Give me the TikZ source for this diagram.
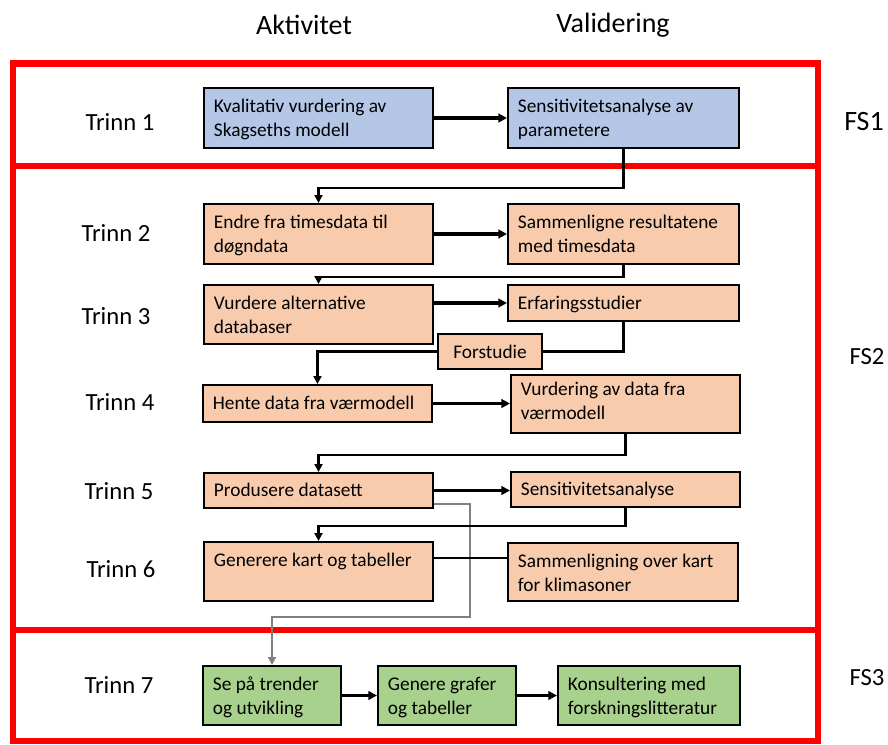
\documentclass[tikz,border=0pt]{standalone}
\usepackage{fontspec}
\setmainfont{Carlito}
\usetikzlibrary{arrows.meta,fit,positioning}
\definecolor{fsred}{RGB}{255,0,0}
\definecolor{fsblue}{RGB}{180,199,231}
\definecolor{fsorange}{RGB}{248,203,173}
\definecolor{fsgreen}{RGB}{169,209,142}
\tikzset{
    stepbox/.style={
           rectangle,
           draw=black, line width=1.5pt,
           inner sep=0pt,
           },
}
\tikzset{
    boxtext/.style={
           anchor=north west,
           align=left,
           inner sep=0pt,
           font=\fontsize{14.5}{18}\selectfont,
           },
}
\tikzset{
    frame/.style={
           rectangle,
           draw=fsred, line width=4.8pt,
           inner sep=0pt,
           },
}
\tikzset{
    trinn/.style={font=\fontsize{18.5}{20}\selectfont},
    head/.style={font=\fontsize{21}{24}\selectfont},
    arr/.style={line width=2.3pt,-{Triangle[length=6.5pt,width=6.5pt]}},
    conn/.style={line width=1.6pt},
    connarr/.style={line width=1.6pt,-{Triangle[length=6pt,width=6pt]}},
    grayarr/.style={line width=1.4pt,draw=gray,-{Triangle[length=6pt,width=6pt]}},
}

\begin{document}
\begin{tikzpicture}[x=0.75pt,y=-0.75pt]
\useasboundingbox (0,0) rectangle (888,744);
% frames
\node[frame,fit={(13,63.5)(818,166)}](fs1){};
\node[frame,fit={(13,166)(818,630)}](fs2){};
\node[frame,fit={(13,630)(818,741)}](fs3){};
\node[head](akt) at (304,25){Aktivitet};
\node[head](val) at (613,25){Validering};
\node[head](fsa) at (864,122){FS1};
\node[trinn](fsb) at (867,357){FS2};
\node[trinn](fsc) at (867,678){FS3};
% trinn labels
\node[trinn](t1) at (120,122){Trinn 1};
\node[trinn](t2) at (116,233){Trinn 2};
\node[trinn](t3) at (116,316){Trinn 3};
\node[trinn](t4) at (120,402){Trinn 4};
\node[trinn](t5) at (119,491){Trinn 5};
\node[trinn](t6) at (121,569){Trinn 6};
\node[trinn](t7) at (119,685){Trinn 7};
% boxes
\node[stepbox,fill=fsblue,fit={(204,88)(433,148)}](b1){};
\node[stepbox,fill=fsblue,fit={(508,88)(739,148)}](b2){};
\node[stepbox,fill=fsorange,fit={(204,204)(433,264)}](c1){};
\node[stepbox,fill=fsorange,fit={(508,204)(739,264)}](c2){};
\node[stepbox,fill=fsorange,fit={(204,285)(433,344)}](d1){};
\node[stepbox,fill=fsorange,fit={(508,285)(739,321)}](d2){};
\node[stepbox,fill=fsorange,fit={(438,334)(542,369)}](fs){};
\node[stepbox,fill=fsorange,fit={(203,385)(432,422)}](e1){};
\node[stepbox,fill=fsorange,fit={(511,375)(740,433)}](e2){};
\node[stepbox,fill=fsorange,fit={(204,473)(433,508)}](f1){};
\node[stepbox,fill=fsorange,fit={(511,472)(740,507)}](f2){};
\node[stepbox,fill=fsorange,fit={(204,542)(433,601)}](g1){};
\node[stepbox,fill=fsorange,fit={(508,543)(738,601)}](g2){};
\node[stepbox,fill=fsgreen,fit={(203,666)(341,725)}](h1){};
\node[stepbox,fill=fsgreen,fit={(378,666)(516,725)}](h2){};
\node[stepbox,fill=fsgreen,fit={(558,666)(740,725)}](h3){};
% box texts
\node[boxtext](b1t) at ([xshift=8pt,yshift=-9pt]b1.north west){Kvalitativ vurdering av\\Skagseths modell};
\node[boxtext](b2t) at ([xshift=8pt,yshift=-9pt]b2.north west){Sensitivitetsanalyse av\\parametere};
\node[boxtext](c1t) at ([xshift=8pt,yshift=-9pt]c1.north west){Endre fra timesdata til\\døgndata};
\node[boxtext](c2t) at ([xshift=8pt,yshift=-9pt]c2.north west){Sammenligne resultatene\\med timesdata};
\node[boxtext](d1t) at ([xshift=8pt,yshift=-9pt]d1.north west){Vurdere alternative\\databaser};
\node[boxtext](d2t) at ([xshift=8pt,yshift=-9pt]d2.north west){Erfaringsstudier};
\node[boxtext,anchor=center](fst) at (fs.center){Forstudie};
\node[boxtext](e1t) at ([xshift=8pt,yshift=-9pt]e1.north west){Hente data fra værmodell};
\node[boxtext](e2t) at ([xshift=8pt,yshift=-6pt]e2.north west){Vurdering av data fra\\værmodell};
\node[boxtext](f1t) at ([xshift=8pt,yshift=-8pt]f1.north west){Produsere datasett};
\node[boxtext](f2t) at ([xshift=8pt,yshift=-8pt]f2.north west){Sensitivitetsanalyse};
\node[boxtext](g1t) at ([xshift=8pt,yshift=-9pt]g1.north west){Generere kart og tabeller};
\node[boxtext](g2t) at ([xshift=8pt,yshift=-9pt]g2.north west){Sammenligning over kart\\for klimasoner};
\node[boxtext](h1t) at ([xshift=8pt,yshift=-9pt]h1.north west){Se på trender\\og utvikling};
\node[boxtext](h2t) at ([xshift=8pt,yshift=-9pt]h2.north west){Genere grafer\\og tabeller};
\node[boxtext](h3t) at ([xshift=8pt,yshift=-9pt]h3.north west){Konsultering med\\forskningslitteratur};
% connectors
\draw[arr] (b1.east) -- (b2.west);
\draw[connarr] (b2.south) -- ++(0,39) -| (c1.north);
\draw[arr] (c1.east) -- (c2.west);
\draw[connarr] (c2.south) -- ++(0,12) -| (d1.north);
\draw[arr] (d1.east |- d2.west) -- (d2.west);
\draw[conn] (d2.south) |- (fs.east);
\draw[connarr] (fs.west) -| (e1.north);
\draw[arr] (e1.east) -- (e1.east -| e2.west);
\draw[connarr] (e2.south) -- ++(0,21) -| (f1.north);
\draw[arr] (f1.east) -- (f1.east -| f2.west);
\draw[grayarr] ([yshift=3.75pt]f1.south east) -- ++(36,0) -- ++(0,113) -| (h1.north);
\draw[connarr] (f2.south) -- ++(0,18) -| (g1.north);
\draw[conn] ([yshift=-12.75pt]g1.north east) -- ([yshift=-12.75pt]g1.north east -| g2.west);
\draw[arr] (h1.east) -- (h2.west);
\draw[arr] (h2.east) -- (h3.west);
\end{tikzpicture}
\end{document}
